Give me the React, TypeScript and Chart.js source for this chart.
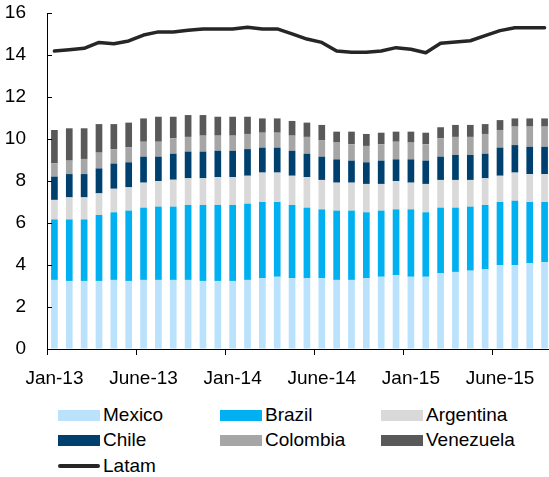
import React, { useEffect, useRef } from "react";
import { Chart, registerables } from "chart.js";

Chart.register(...registerables);

// ---------- data ----------
const categories = [
  "Jan-13", "Feb-13", "Mar-13", "Apr-13", "May-13", "Jun-13", "Jul-13", "Aug-13", "Sep-13", "Oct-13", "Nov-13", "Dec-13",
  "Jan-14", "Feb-14", "Mar-14", "Apr-14", "May-14", "Jun-14", "Jul-14", "Aug-14", "Sep-14", "Oct-14", "Nov-14", "Dec-14",
  "Jan-15", "Feb-15", "Mar-15", "Apr-15", "May-15", "Jun-15", "Jul-15", "Aug-15", "Sep-15", "Oct-15",
];
const tickLabels = ["Jan-13", "June-13", "Jan-14", "June-14", "Jan-15", "June-15"];
const tickEvery = 6;

const mexico = [3.29, 3.24, 3.24, 3.24, 3.29, 3.24, 3.29, 3.29, 3.29, 3.29, 3.24, 3.24, 3.24, 3.29, 3.37, 3.44, 3.37, 3.37, 3.37, 3.29, 3.29, 3.37, 3.44, 3.52, 3.44, 3.44, 3.6, 3.67, 3.73, 3.79, 4.0, 4.0, 4.08, 4.14];
const brazil = [2.88, 2.93, 2.93, 3.14, 3.22, 3.35, 3.44, 3.49, 3.49, 3.57, 3.62, 3.62, 3.62, 3.63, 3.63, 3.56, 3.49, 3.36, 3.28, 3.3, 3.3, 3.14, 3.15, 3.13, 3.21, 3.07, 3.13, 3.06, 3.05, 3.07, 3.0, 3.06, 2.92, 2.86];
const argentina = [0.93, 1.05, 1.05, 1.03, 1.12, 1.11, 1.19, 1.22, 1.28, 1.27, 1.27, 1.33, 1.33, 1.33, 1.4, 1.4, 1.39, 1.46, 1.4, 1.33, 1.33, 1.35, 1.27, 1.35, 1.27, 1.35, 1.32, 1.32, 1.27, 1.27, 1.25, 1.34, 1.33, 1.33];
const chile = [1.11, 1.11, 1.11, 1.19, 1.2, 1.19, 1.24, 1.16, 1.24, 1.27, 1.27, 1.25, 1.25, 1.27, 1.19, 1.19, 1.19, 1.11, 1.11, 1.11, 1.05, 1.03, 1.11, 1.03, 1.11, 1.11, 1.11, 1.19, 1.19, 1.17, 1.34, 1.31, 1.3, 1.3];
const colombia = [0.63, 0.64, 0.72, 0.75, 0.69, 0.71, 0.71, 0.71, 0.73, 0.7, 0.76, 0.72, 0.72, 0.72, 0.71, 0.71, 0.72, 0.8, 0.79, 0.8, 0.78, 0.78, 0.78, 0.84, 0.8, 0.78, 0.87, 0.86, 0.86, 0.94, 0.84, 0.88, 0.96, 0.96];
const venezuela = [1.59, 1.54, 1.46, 1.36, 1.19, 1.18, 1.11, 1.19, 1.03, 1.04, 0.98, 0.9, 0.9, 0.82, 0.68, 0.68, 0.7, 0.68, 0.72, 0.52, 0.6, 0.57, 0.55, 0.48, 0.52, 0.55, 0.53, 0.57, 0.57, 0.47, 0.47, 0.39, 0.39, 0.39];
const latam = [14.19, 14.25, 14.32, 14.6, 14.54, 14.67, 14.95, 15.1, 15.1, 15.18, 15.24, 15.24, 15.24, 15.32, 15.24, 15.24, 15.01, 14.76, 14.6, 14.19, 14.13, 14.13, 14.19, 14.35, 14.27, 14.11, 14.56, 14.62, 14.68, 14.92, 15.16, 15.3, 15.3, 15.3];

const seriesNames = ["Mexico", "Brazil", "Argentina", "Chile", "Colombia", "Venezuela", "Latam"];
const seriesColors = ["#BBE2FC", "#00B0F0", "#D9D9D9", "#00406F", "#A6A6A6", "#595959", "#262626"];
const barSeries = [mexico, brazil, argentina, chile, colombia, venezuela];

const FONT = '"Liberation Sans", Arial, sans-serif';

const innerYTicks = {
  id: "innerYTicks",
  afterDatasetsDraw(chart: any) {
    const y = chart.scales.y;
    const { ctx, chartArea } = chart;
    ctx.save();
    ctx.strokeStyle = "#000";
    ctx.lineWidth = 1;
    y.ticks.forEach((t: any) => {
      const p = Math.round(y.getPixelForValue(t.value)) + 0.5;
      ctx.beginPath();
      ctx.moveTo(chartArea.left, p);
      ctx.lineTo(chartArea.left + 5, p);
      ctx.stroke();
    });
    ctx.restore();
  },
};

export default function App() {
  const ref = useRef<HTMLCanvasElement>(null);

  useEffect(() => {
    if (!ref.current) return;
    const datasets: any[] = barSeries.map((d, i) => ({
      type: "bar",
      label: seriesNames[i],
      data: d,
      backgroundColor: seriesColors[i],
      borderWidth: 0,
      stack: "s",
      order: 1,
      barPercentage: 1,
      categoryPercentage: 0.45,
    }));
    datasets.push({
      type: "line",
      label: seriesNames[6],
      data: latam,
      borderColor: seriesColors[6],
      backgroundColor: seriesColors[6],
      borderWidth: 3.5,
      pointRadius: 0,
      tension: 0,
      borderJoinStyle: "round",
      borderCapStyle: "round",
      order: 0,
      stack: "line",
    });

    const chart = new Chart(ref.current, {
      type: "bar",
      data: { labels: categories, datasets },
      plugins: [innerYTicks],
      options: {
        responsive: false,
        animation: false,
        layout: { padding: { top: 13, left: 0, right: 0, bottom: 0 } },
        plugins: { legend: { display: false }, tooltip: { enabled: false } },
        scales: {
          x: {
            stacked: true,
            grid: {
              offset: true,
              drawOnChartArea: false,
              drawTicks: true,
              tickLength: 6,
              tickColor: (ctx: any) => (ctx.index % tickEvery === 0 ? "#000" : "rgba(0,0,0,0)"),
              lineWidth: 1,
            },
            border: { display: true, color: "#000", width: 1 },
            ticks: {
              autoSkip: false,
              maxRotation: 0,
              minRotation: 0,
              padding: 12,
              color: "#000",
              font: { family: FONT, size: 19 },
              callback: (_v: any, i: number) => (i % tickEvery === 0 ? tickLabels[i / tickEvery] ?? "" : ""),
            },
            afterFit: (s: any) => {
              s.height = 51;
              s.paddingLeft = 0;
              s.paddingRight = 0;
            },
          },
          y: {
            stacked: true,
            min: 0,
            max: 16,
            grid: { drawOnChartArea: false, drawTicks: false },
            border: { display: true, color: "#000", width: 1 },
            ticks: {
              stepSize: 2,
              padding: 21,
              color: "#000",
              font: { family: FONT, size: 19 },
            },
            afterFit: (s: any) => {
              s.width = 47;
              s.paddingTop = 0;
              s.paddingBottom = 0;
            },
          },
        },
      },
    });
    return () => chart.destroy();
  }, []);

  const cols = [58, 220, 381];
  const rows = [415, 440, 466];

  return (
    <div
      style={{
        position: "absolute",
        left: 0,
        top: 0,
        width: 549,
        height: 477,
        overflow: "hidden",
        background: "#fff",
        fontFamily: FONT,
      }}
    >
      <canvas
        ref={ref}
        width={552}
        height={400}
        style={{ position: "absolute", left: 0, top: 0, width: 552, height: 400 }}
      />
      {seriesNames.map((name, i) => {
        const isLine = i === 6;
        return (
          <div
            key={name}
            style={{
              position: "absolute",
              left: cols[i % 3],
              top: rows[Math.floor(i / 3)] - 12,
              height: 24,
              display: "flex",
              alignItems: "center",
              fontSize: 19,
              color: "#000",
              whiteSpace: "nowrap",
            }}
          >
            <span
              style={{
                display: "inline-block",
                width: 42,
                height: isLine ? 4 : 11,
                borderRadius: isLine ? 2 : 0,
                background: seriesColors[i],
                marginRight: 3,
              }}
            />
            <span>{name}</span>
          </div>
        );
      })}
    </div>
  );
}
